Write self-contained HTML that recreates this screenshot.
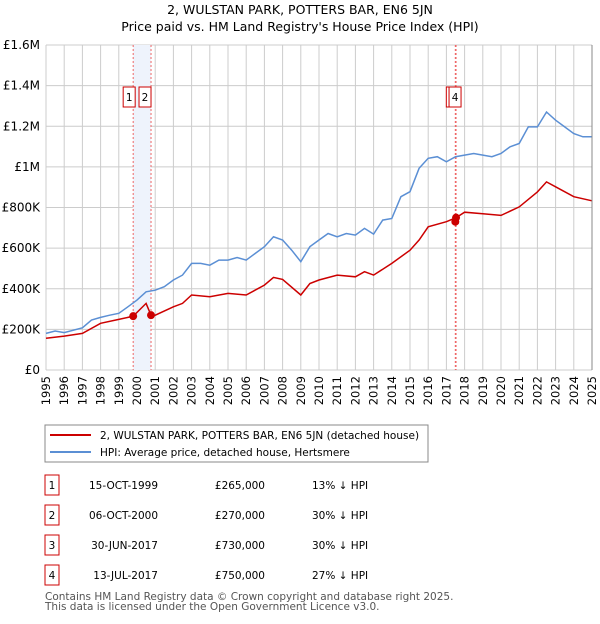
<!DOCTYPE html>
<html><head><meta charset="utf-8"><style>
body{margin:0;background:#fff;font-family:"DejaVu Sans","Liberation Sans",sans-serif;}
svg text{font-family:"DejaVu Sans","Liberation Sans",sans-serif;}
</style></head><body>
<svg id="chart" width="600" height="620" xmlns="http://www.w3.org/2000/svg">
<text x="300" y="14" text-anchor="middle" font-size="12.5">2, WULSTAN PARK, POTTERS BAR, EN6 5JN</text>
<text x="300" y="31" text-anchor="middle" font-size="12.5">Price paid vs. HM Land Registry's House Price Index (HPI)</text>
<g id="grid"></g><g id="shade"></g><g id="lines"></g><g id="marks"></g><g id="axes"></g>
<rect x="45" y="425" width="383" height="37" fill="none" stroke="#888"/>
<line x1="50" y1="435" x2="91" y2="435" stroke="#cc0000" stroke-width="2"/>
<text x="100" y="439" font-size="10.5">2, WULSTAN PARK, POTTERS BAR, EN6 5JN (detached house)</text>
<line x1="50" y1="452" x2="91" y2="452" stroke="#5b8fd4" stroke-width="2"/>
<text x="100" y="456" font-size="10.5">HPI: Average price, detached house, Hertsmere</text>
<g id="table" font-size="10.5"></g>
<text x="45" y="600" font-size="10.5" fill="#555">Contains HM Land Registry data © Crown copyright and database right 2025.</text>
<text x="45" y="610" font-size="10.5" fill="#555">This data is licensed under the Open Government Licence v3.0.</text>
</svg>
<script>
const hpiYears=[1995,1995.5,1996,1997,1997.5,1998,1998.5,1999,1999.5,2000,2000.5,2001,2001.5,2002,2002.5,2003,2003.5,2004,2004.5,2005,2005.5,2006,2006.5,2007,2007.5,2008,2008.5,2009,2009.5,2010,2010.5,2011,2011.5,2012,2012.5,2013,2013.5,2014,2014.5,2015,2015.5,2016,2016.5,2017,2017.5,2018,2018.5,2019,2019.5,2020,2020.5,2021,2021.5,2022,2022.5,2023,2023.5,2024,2024.5,2025];
const hpiValues=[180,192,184,208,246,259,270,279,311,344,385,393,410,443,467,525,525,516,541,541,554,541,574,607,656,640,590,533,607,640,672,656,672,664,697,669,738,746,853,878,993,1042,1050,1025,1050,1058,1066,1058,1050,1066,1099,1115,1197,1197,1270,1230,1197,1164,1148,1148];
const propYears=[1995,1996,1997,1998,1999,1999.79,2000.5,2000.77,2001,2002,2002.5,2003,2004,2005,2006,2007,2007.5,2008,2009,2009.5,2010,2011,2012,2012.5,2013,2014,2015,2015.5,2016,2017,2017.53,2018,2019,2020,2021,2022,2022.5,2023,2024,2025];
const propValues=[156,167,180,230,249,265,328,270,270,311,328,369,361,377,369,418,456,446,369,426,443,467,459,484,467,525,590,640,705,730,750,777,769,761,803,877,926,902,853,833];
const saleLabels=["1","2","3","4"];
const saleYears=[1999.79,2000.77,2017.49,2017.53];
const salePrices=[265,270,730,750];
const saleDates=["15-OCT-1999","06-OCT-2000","30-JUN-2017","13-JUL-2017"];
const salePriceText=["£265,000","£270,000","£730,000","£750,000"];
const saleHpiText=["13% ↓ HPI","30% ↓ HPI","30% ↓ HPI","27% ↓ HPI"];
const yTicks=[0,200,400,600,800,1000,1200,1400,1600];
const yTickLabels=["£0","£200K","£400K","£600K","£800K","£1M","£1.2M","£1.4M","£1.6M"];
const xTicks=[1995,1996,1997,1998,1999,2000,2001,2002,2003,2004,2005,2006,2007,2008,2009,2010,2011,2012,2013,2014,2015,2016,2017,2018,2019,2020,2021,2022,2023,2024,2025];
const NS="http://www.w3.org/2000/svg";
const X=y=>46+(y-1995)*(546/30);
const Y=v=>370-v*(325/1600);
function mk(t,a,p){const e=document.createElementNS(NS,t);for(const k in a)e.setAttribute(k,a[k]);p.appendChild(e);return e;}
const grid=document.getElementById('grid'),axes=document.getElementById('axes');
yTicks.forEach((v,i)=>{
 const l=mk('line',{x1:46,x2:592,y1:Y(v),y2:Y(v),stroke:'#ccc'},grid);
 
 
 const t=mk('text',{x:40,y:Y(v)+4,'text-anchor':'end','font-size':12},axes);
 t.textContent=yTickLabels[i];
 
 
});
xTicks.forEach(yr=>{
 const l=mk('line',{x1:X(yr),x2:X(yr),y1:45,y2:370,stroke:'#ccc'},grid);
 
 
 const tx=X(yr)+4,ty=376;
 const t=mk('text',{x:tx,y:ty,'text-anchor':'end','font-size':11.5,transform:`rotate(-90 ${tx} ${ty})`},axes);
 t.textContent=yr;
 
 
});
const sh=mk('rect',{x:X(saleYears[0]),y:45,width:X(saleYears[1])-X(saleYears[0]),height:325,fill:'#eef3fc'},document.getElementById('shade'));


const lines=document.getElementById('lines');
function path(xs,vs,c,name){const d=xs.map((x,i)=>(i?'L':'M')+X(x).toFixed(1)+','+Y(vs[i]).toFixed(1)).join('');
 const p=mk('path',{d:d,fill:'none',stroke:c,'stroke-width':1.5},lines);
 
 }
saleYears.forEach(yr=>{
 const l=mk('line',{x1:X(yr),x2:X(yr),y1:45,y2:370,stroke:'#e66','stroke-dasharray':'2,2'},lines);
 
 
});
path(hpiYears,hpiValues,'#5b8fd4','hpi-line');
path(propYears,propValues,'#cc0000','property-line');
const marks=document.getElementById('marks');
const boxOff=[-10,-12,-9,-7];
[2,0,1,3].forEach(i=>{
 const yr=saleYears[i];
 const c=mk('circle',{cx:X(yr),cy:Y(salePrices[i]),r:4,fill:'#cc0000'},marks);
 
 
 const bx=X(yr)+boxOff[i];
 const g=mk('g',{},marks);
 
 
 mk('rect',{x:bx,y:87,width:12,height:20,fill:'#fff',stroke:'#cc0000'},g);
 const t=mk('text',{x:bx+6,y:101,'text-anchor':'middle','font-size':10.5},g);t.textContent=saleLabels[i];
});
mk('line',{x1:592,x2:592,y1:45,y2:370,stroke:'#888'},axes);
const tb=document.getElementById('table');
saleLabels.forEach((s,i)=>{
 const y=485+i*30;
 const g=mk('g',{},tb);
 
 
 mk('rect',{x:45,y:y-10,width:14,height:20,fill:'#fff',stroke:'#cc0000'},g);
 let t=mk('text',{x:52,y:y+4,'text-anchor':'middle'},g);t.textContent=s;
 t=mk('text',{x:158,y:y+4,'text-anchor':'end'},g);t.textContent=saleDates[i];
 t=mk('text',{x:265,y:y+4,'text-anchor':'end'},g);t.textContent=salePriceText[i];
 t=mk('text',{x:312,y:y+4},g);t.textContent=saleHpiText[i];
});
</script>
</body></html>
